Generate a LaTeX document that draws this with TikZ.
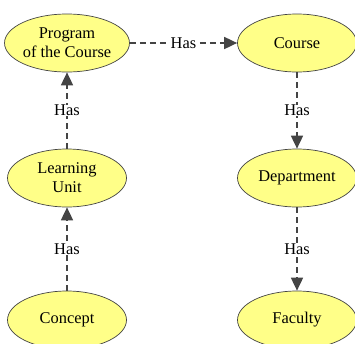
\documentclass[tikz,border=0pt]{standalone}
\usepackage{fontspec}
\setmainfont{Liberation Serif}
\usetikzlibrary{arrows.meta,shapes.geometric}
\definecolor{ellfill}{RGB}{255,255,136}
\definecolor{edgegray}{RGB}{68,68,68}
\begin{document}
\begin{tikzpicture}[x=1pt,y=-1pt,
  concept/.style={ellipse,draw=edgegray,line width=0.7pt,fill=ellfill,
    minimum width=119pt,minimum height=58pt,inner sep=0pt,
    font=\fontsize{16.4}{19}\selectfont,align=center},
  rel/.style={draw=edgegray,line width=1.7pt,dash pattern=on 6pt off 4pt,
    -{Triangle[length=13pt,width=12pt]}},
  lbl/.style={fill=white,inner sep=0.5pt,font=\fontsize{16.4}{19}\selectfont,text=black}]
\useasboundingbox (0,0) rectangle (355,343);
\node[concept] (prog) at (67,43) {Program\\of the Course};
\node[concept] (course) at (297,43) {Course};
\node[concept] (lu) at (67,178) {Learning\\Unit};
\node[concept] (dept) at (297,178) {Department};
\node[concept] (conc) at (67,320) {Concept};
\node[concept] (fac) at (297,320) {Faculty};
\draw[rel] (prog) -- node[lbl] {Has} (course);
\draw[rel] (course) -- node[lbl] {Has} (dept);
\draw[rel] (dept) -- node[lbl] {Has} (fac);
\draw[rel] (lu) -- node[lbl] {Has} (prog);
\draw[rel] (conc) -- node[lbl] {Has} (lu);
\end{tikzpicture}
\end{document}
